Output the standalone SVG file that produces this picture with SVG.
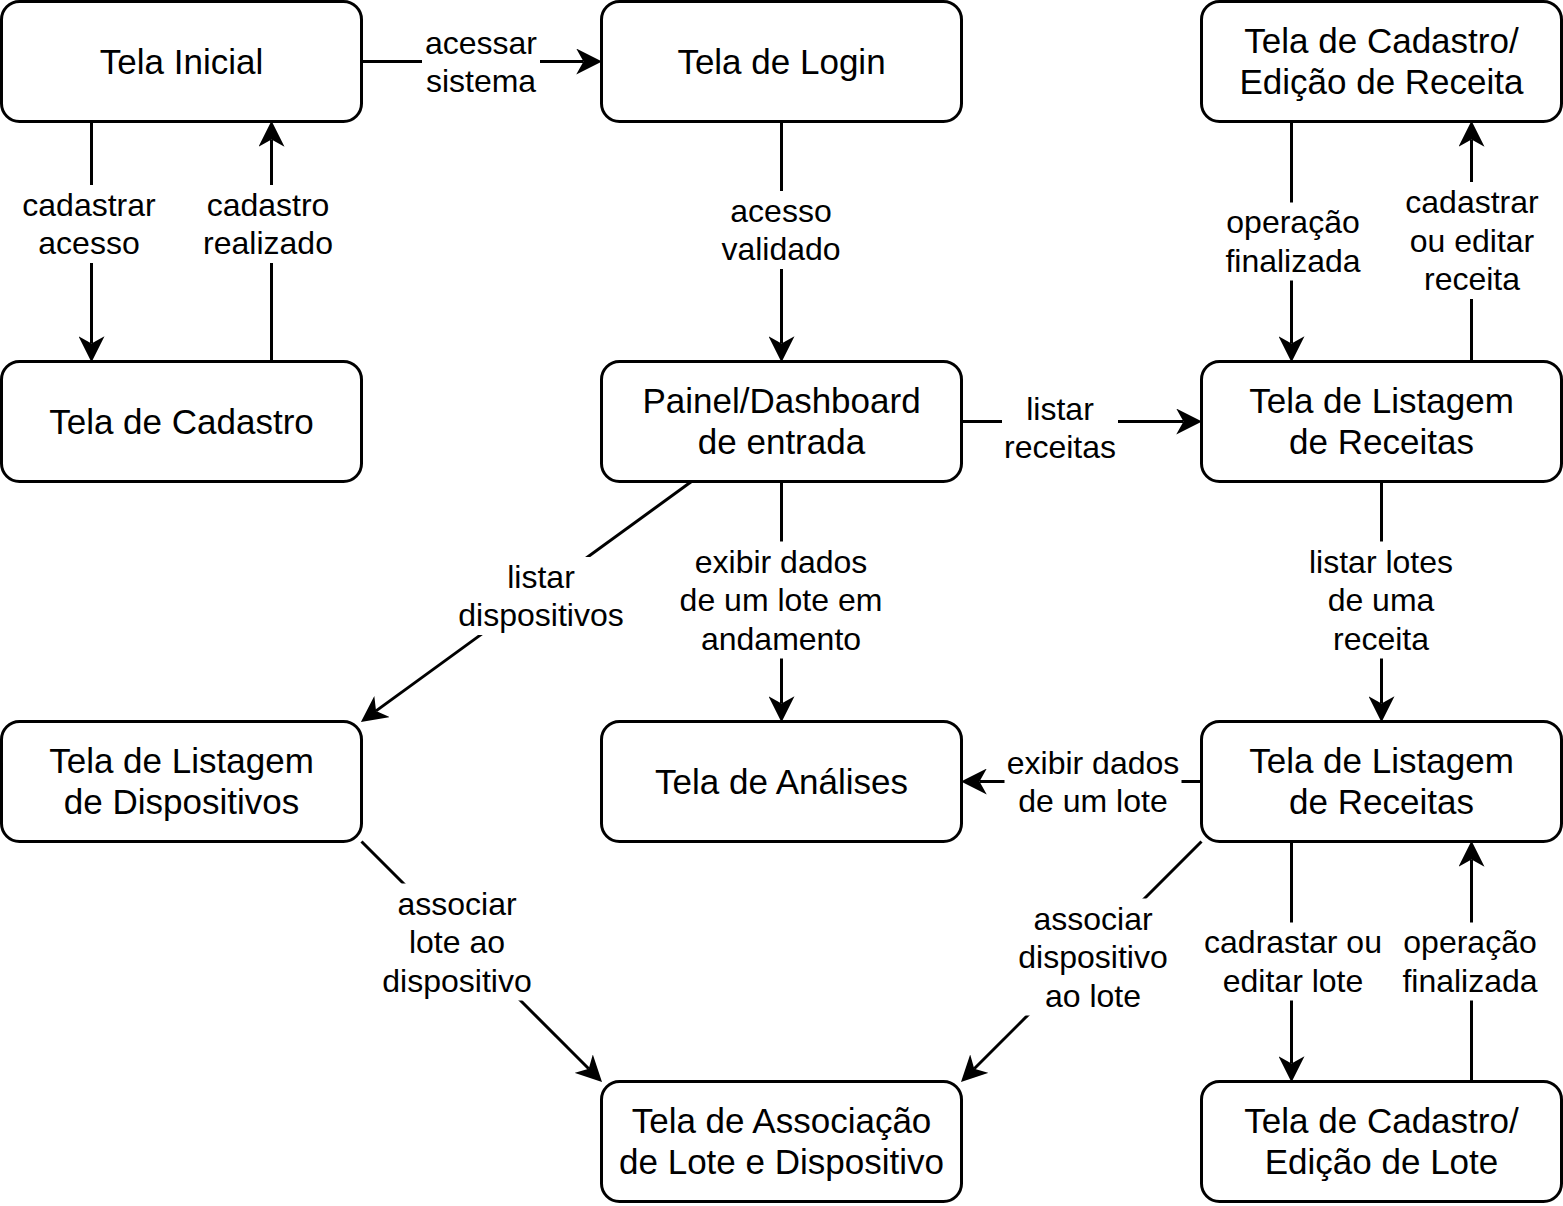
<svg xmlns="http://www.w3.org/2000/svg" width="1563" height="1206" viewBox="0 0 1563 1206">
<style>
.node rect{fill:#fff;stroke:#000;stroke-width:3}
.n{font-family:"Liberation Sans",Arial,Helvetica,sans-serif;font-size:35px;text-anchor:middle;fill:#000}
.e{font-family:"Liberation Sans",Arial,Helvetica,sans-serif;font-size:32px;text-anchor:middle;fill:#000}
.ln{fill:none;stroke:#000;stroke-width:3;marker-end:url(#arr)}
.bg{fill:#fff;stroke:none}
</style>
<defs>
<marker id="arr" markerUnits="userSpaceOnUse" markerWidth="26" markerHeight="26" viewBox="0 0 25 25" refX="7" refY="12.5" orient="auto"><path d="M25,12.5 L0,0 L7,12.5 L0,25 Z" fill="#000"/></marker>
</defs>
<rect width="1563" height="1206" fill="#fff"/>
<g id="connectors">
<path class="ln" d="M361.5,61.5 H583.5"/>
<path class="ln" d="M91.5,121.5 V343.5"/>
<path class="ln" d="M271.5,361.5 V139.5"/>
<path class="ln" d="M781.5,121.5 V343.5"/>
<path class="ln" d="M1291.5,121.5 V343.5"/>
<path class="ln" d="M1471.5,361.5 V139.5"/>
<path class="ln" d="M961.5,421.5 H1183.5"/>
<path class="ln" d="M691.5,481.5 L376.06,710.91"/>
<path class="ln" d="M781.5,481.5 V703.5"/>
<path class="ln" d="M1381.5,481.5 V703.5"/>
<path class="ln" d="M1201.5,781.5 H979.5"/>
<path class="ln" d="M361.5,841.5 L588.77,1068.77"/>
<path class="ln" d="M1201.5,841.5 L974.23,1068.77"/>
<path class="ln" d="M1291.5,841.5 V1063.5"/>
<path class="ln" d="M1471.5,1081.5 V859.5"/>
<g id="labels">
<rect class="bg" x="422" y="23" width="118" height="78"/>
<text class="e" x="481" y="54">acessar</text><text class="e" x="481" y="92">sistema</text>
<rect class="bg" x="20.5" y="185" width="137" height="78"/>
<text class="e" x="89" y="216">cadastrar</text><text class="e" x="89" y="254">acesso</text>
<rect class="bg" x="201" y="185" width="134" height="78"/>
<text class="e" x="268" y="216">cadastro</text><text class="e" x="268" y="254">realizado</text>
<rect class="bg" x="719.5" y="191" width="123" height="78"/>
<text class="e" x="781" y="222">acesso</text><text class="e" x="781" y="260">validado</text>
<rect class="bg" x="1223.5" y="202.5" width="139" height="78"/>
<text class="e" x="1293" y="233">operação</text><text class="e" x="1293" y="272">finalizada</text>
<rect class="bg" x="1403.5" y="182" width="137" height="117"/>
<text class="e" x="1472" y="213">cadastrar</text><text class="e" x="1472" y="251.5">ou editar</text><text class="e" x="1472" y="290">receita</text>
<rect class="bg" x="1002" y="389" width="116" height="78"/>
<text class="e" x="1060" y="420">listar</text><text class="e" x="1060" y="458">receitas</text>
<rect class="bg" x="456.5" y="557" width="169" height="78"/>
<text class="e" x="541" y="588">listar</text><text class="e" x="541" y="626">dispositivos</text>
<rect class="bg" x="677.5" y="541.5" width="207" height="117"/>
<text class="e" x="781" y="572.5">exibir dados</text><text class="e" x="781" y="611">de um lote em</text><text class="e" x="781" y="649.5">andamento</text>
<rect class="bg" x="1307" y="541.5" width="148" height="117"/>
<text class="e" x="1381" y="572.5">listar lotes</text><text class="e" x="1381" y="611">de uma</text><text class="e" x="1381" y="649.5">receita</text>
<rect class="bg" x="1004.5" y="743" width="177" height="78"/>
<text class="e" x="1093" y="774">exibir dados</text><text class="e" x="1093" y="812">de um lote</text>
<rect class="bg" x="380.5" y="883.5" width="153" height="117"/>
<text class="e" x="457" y="914.5">associar</text><text class="e" x="457" y="953">lote ao</text><text class="e" x="457" y="991.5">dispositivo</text>
<rect class="bg" x="1016.5" y="898.5" width="153" height="117"/>
<text class="e" x="1093" y="929.5">associar</text><text class="e" x="1093" y="968">dispositivo</text><text class="e" x="1093" y="1006.5">ao lote</text>
<rect class="bg" x="1202" y="922.5" width="182" height="78"/>
<text class="e" x="1293" y="953">cadrastar ou</text><text class="e" x="1293" y="992">editar lote</text>
<rect class="bg" x="1400.5" y="922.5" width="139" height="78"/>
<text class="e" x="1470" y="953">operação</text><text class="e" x="1470" y="992">finalizada</text>
</g>
</g>
<g id="n1" class="node"><rect x="1.5" y="1.5" width="360" height="120" rx="18"/><text class="n" x="181.5" y="73.5">Tela Inicial</text></g>
<g id="n2" class="node"><rect x="601.5" y="1.5" width="360" height="120" rx="18"/><text class="n" x="781.5" y="73.5">Tela de Login</text></g>
<g id="n3" class="node"><rect x="1201.5" y="1.5" width="360" height="120" rx="18"/><text class="n" x="1381.5" y="53">Tela de Cadastro/</text><text class="n" x="1381.5" y="94">Edição de Receita</text></g>
<g id="n4" class="node"><rect x="1.5" y="361.5" width="360" height="120" rx="18"/><text class="n" x="181.5" y="433.5">Tela de Cadastro</text></g>
<g id="n5" class="node"><rect x="601.5" y="361.5" width="360" height="120" rx="18"/><text class="n" x="781.5" y="413">Painel/Dashboard</text><text class="n" x="781.5" y="454">de entrada</text></g>
<g id="n6" class="node"><rect x="1201.5" y="361.5" width="360" height="120" rx="18"/><text class="n" x="1381.5" y="413">Tela de Listagem</text><text class="n" x="1381.5" y="454">de Receitas</text></g>
<g id="n7" class="node"><rect x="1.5" y="721.5" width="360" height="120" rx="18"/><text class="n" x="181.5" y="773">Tela de Listagem</text><text class="n" x="181.5" y="814">de Dispositivos</text></g>
<g id="n8" class="node"><rect x="601.5" y="721.5" width="360" height="120" rx="18"/><text class="n" x="781.5" y="793.5">Tela de Análises</text></g>
<g id="n9" class="node"><rect x="1201.5" y="721.5" width="360" height="120" rx="18"/><text class="n" x="1381.5" y="773">Tela de Listagem</text><text class="n" x="1381.5" y="814">de Receitas</text></g>
<g id="n10" class="node"><rect x="601.5" y="1081.5" width="360" height="120" rx="18"/><text class="n" x="781.5" y="1133">Tela de Associação</text><text class="n" x="781.5" y="1174">de Lote e Dispositivo</text></g>
<g id="n11" class="node"><rect x="1201.5" y="1081.5" width="360" height="120" rx="18"/><text class="n" x="1381.5" y="1133">Tela de Cadastro/</text><text class="n" x="1381.5" y="1174">Edição de Lote</text></g>
</svg>
